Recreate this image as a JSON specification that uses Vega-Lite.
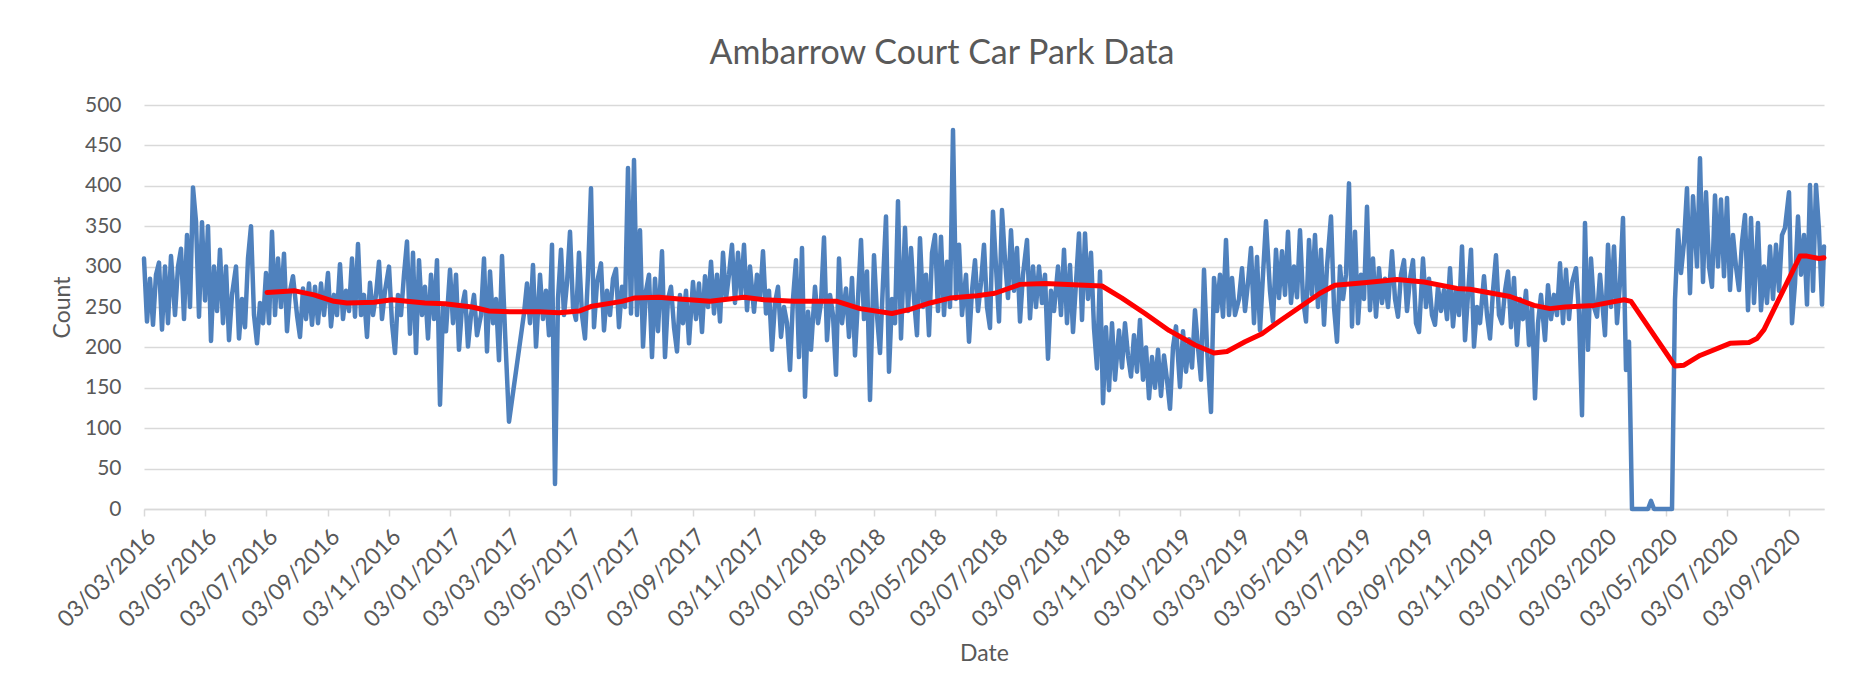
{
"$schema": "https://vega.github.io/schema/vega-lite/v6.json",
"width": 1680, "height": 404,
"autosize": {"type": "none"},
"padding": {"left": 144, "top": 105, "right": 46, "bottom": 188},
"background": "white",
"title": {"text": "Ambarrow Court Car Park Data", "font": "Lato", "fontSize": 34, "fontWeight": "normal", "color": "#595959", "anchor": "middle", "frame": "group", "dx": -42, "offset": 23},
"config": {"view": {"stroke": null}},
"layer": [
{"data": {"values": [
{"d":"2016-03-03","c":310},{"d":"2016-03-06","c":232},{"d":"2016-03-09","c":285},{"d":"2016-03-12","c":228},{"d":"2016-03-15","c":290},{"d":"2016-03-18","c":305},{"d":"2016-03-21","c":222},{"d":"2016-03-24","c":300},{"d":"2016-03-27","c":230},{"d":"2016-03-30","c":313},
{"d":"2016-04-03","c":240},{"d":"2016-04-06","c":300},{"d":"2016-04-09","c":322},{"d":"2016-04-12","c":235},{"d":"2016-04-15","c":339},{"d":"2016-04-18","c":250},{"d":"2016-04-21","c":398},{"d":"2016-04-24","c":356},{"d":"2016-04-27","c":238},{"d":"2016-04-30","c":355},
{"d":"2016-05-03","c":258},{"d":"2016-05-06","c":350},{"d":"2016-05-09","c":208},{"d":"2016-05-12","c":300},{"d":"2016-05-15","c":245},{"d":"2016-05-18","c":321},{"d":"2016-05-21","c":230},{"d":"2016-05-24","c":300},{"d":"2016-05-27","c":209},{"d":"2016-05-30","c":265},
{"d":"2016-06-03","c":300},{"d":"2016-06-06","c":211},{"d":"2016-06-09","c":260},{"d":"2016-06-12","c":225},{"d":"2016-06-15","c":310},{"d":"2016-06-18","c":350},{"d":"2016-06-21","c":240},{"d":"2016-06-24","c":205},{"d":"2016-06-27","c":255},{"d":"2016-06-30","c":230},
{"d":"2016-07-03","c":292},{"d":"2016-07-06","c":230},{"d":"2016-07-09","c":343},{"d":"2016-07-12","c":240},{"d":"2016-07-15","c":310},{"d":"2016-07-18","c":250},{"d":"2016-07-21","c":316},{"d":"2016-07-24","c":220},{"d":"2016-07-27","c":270},{"d":"2016-07-30","c":288},
{"d":"2016-08-03","c":240},{"d":"2016-08-06","c":213},{"d":"2016-08-09","c":273},{"d":"2016-08-12","c":235},{"d":"2016-08-15","c":279},{"d":"2016-08-18","c":228},{"d":"2016-08-21","c":275},{"d":"2016-08-24","c":230},{"d":"2016-08-27","c":279},{"d":"2016-08-30","c":240},
{"d":"2016-09-03","c":292},{"d":"2016-09-06","c":226},{"d":"2016-09-09","c":265},{"d":"2016-09-12","c":240},{"d":"2016-09-15","c":303},{"d":"2016-09-18","c":235},{"d":"2016-09-21","c":270},{"d":"2016-09-24","c":245},{"d":"2016-09-27","c":310},{"d":"2016-09-30","c":238},
{"d":"2016-10-03","c":328},{"d":"2016-10-06","c":240},{"d":"2016-10-09","c":265},{"d":"2016-10-12","c":213},{"d":"2016-10-15","c":280},{"d":"2016-10-18","c":240},{"d":"2016-10-21","c":265},{"d":"2016-10-24","c":306},{"d":"2016-10-27","c":235},{"d":"2016-10-30","c":270},
{"d":"2016-11-03","c":300},{"d":"2016-11-06","c":230},{"d":"2016-11-09","c":193},{"d":"2016-11-12","c":265},{"d":"2016-11-15","c":240},{"d":"2016-11-18","c":290},{"d":"2016-11-21","c":331},{"d":"2016-11-24","c":217},{"d":"2016-11-27","c":317},{"d":"2016-11-30","c":193},
{"d":"2016-12-03","c":308},{"d":"2016-12-06","c":240},{"d":"2016-12-09","c":275},{"d":"2016-12-12","c":211},{"d":"2016-12-15","c":290},{"d":"2016-12-18","c":235},{"d":"2016-12-21","c":308},{"d":"2016-12-24","c":129},{"d":"2016-12-27","c":250},{"d":"2016-12-30","c":220},
{"d":"2017-01-03","c":296},{"d":"2017-01-06","c":230},{"d":"2017-01-09","c":290},{"d":"2017-01-12","c":197},{"d":"2017-01-15","c":250},{"d":"2017-01-18","c":269},{"d":"2017-01-21","c":201},{"d":"2017-01-24","c":240},{"d":"2017-01-27","c":265},{"d":"2017-01-30","c":215},
{"d":"2017-02-03","c":240},{"d":"2017-02-06","c":310},{"d":"2017-02-09","c":195},{"d":"2017-02-12","c":294},{"d":"2017-02-15","c":230},{"d":"2017-02-18","c":260},{"d":"2017-02-21","c":184},{"d":"2017-02-24","c":313},{"d":"2017-02-27","c":220},
{"d":"2017-03-03","c":108},{"d":"2017-03-18","c":242},{"d":"2017-03-21","c":279},{"d":"2017-03-24","c":230},{"d":"2017-03-27","c":302},{"d":"2017-03-30","c":201},
{"d":"2017-04-03","c":290},{"d":"2017-04-06","c":235},{"d":"2017-04-09","c":270},{"d":"2017-04-12","c":215},{"d":"2017-04-15","c":327},{"d":"2017-04-18","c":31},{"d":"2017-04-21","c":260},{"d":"2017-04-24","c":321},{"d":"2017-04-27","c":240},{"d":"2017-04-30","c":280},
{"d":"2017-05-03","c":343},{"d":"2017-05-06","c":250},{"d":"2017-05-09","c":234},{"d":"2017-05-12","c":317},{"d":"2017-05-15","c":240},{"d":"2017-05-18","c":211},{"d":"2017-05-21","c":290},{"d":"2017-05-24","c":397},{"d":"2017-05-27","c":225},{"d":"2017-05-30","c":280},
{"d":"2017-06-03","c":304},{"d":"2017-06-06","c":221},{"d":"2017-06-09","c":270},{"d":"2017-06-12","c":240},{"d":"2017-06-15","c":285},{"d":"2017-06-18","c":297},{"d":"2017-06-21","c":225},{"d":"2017-06-24","c":275},{"d":"2017-06-27","c":250},{"d":"2017-06-30","c":422},
{"d":"2017-07-03","c":242},{"d":"2017-07-06","c":432},{"d":"2017-07-09","c":240},{"d":"2017-07-12","c":345},{"d":"2017-07-15","c":201},{"d":"2017-07-18","c":270},{"d":"2017-07-21","c":290},{"d":"2017-07-24","c":188},{"d":"2017-07-27","c":285},{"d":"2017-07-30","c":220},
{"d":"2017-08-03","c":319},{"d":"2017-08-06","c":188},{"d":"2017-08-09","c":260},{"d":"2017-08-12","c":275},{"d":"2017-08-15","c":225},{"d":"2017-08-18","c":195},{"d":"2017-08-21","c":265},{"d":"2017-08-24","c":230},{"d":"2017-08-27","c":270},{"d":"2017-08-30","c":205},
{"d":"2017-09-03","c":281},{"d":"2017-09-06","c":235},{"d":"2017-09-09","c":279},{"d":"2017-09-12","c":219},{"d":"2017-09-15","c":288},{"d":"2017-09-18","c":250},{"d":"2017-09-21","c":306},{"d":"2017-09-24","c":242},{"d":"2017-09-27","c":290},{"d":"2017-09-30","c":232},
{"d":"2017-10-03","c":317},{"d":"2017-10-06","c":260},{"d":"2017-10-09","c":290},{"d":"2017-10-12","c":327},{"d":"2017-10-15","c":255},{"d":"2017-10-18","c":317},{"d":"2017-10-21","c":265},{"d":"2017-10-24","c":327},{"d":"2017-10-27","c":246},{"d":"2017-10-30","c":300},
{"d":"2017-11-03","c":244},{"d":"2017-11-06","c":290},{"d":"2017-11-09","c":260},{"d":"2017-11-12","c":319},{"d":"2017-11-15","c":242},{"d":"2017-11-18","c":270},{"d":"2017-11-21","c":197},{"d":"2017-11-24","c":255},{"d":"2017-11-27","c":275},{"d":"2017-11-30","c":213},
{"d":"2017-12-03","c":250},{"d":"2017-12-06","c":230},{"d":"2017-12-09","c":172},{"d":"2017-12-12","c":260},{"d":"2017-12-15","c":308},{"d":"2017-12-18","c":188},{"d":"2017-12-21","c":323},{"d":"2017-12-24","c":139},{"d":"2017-12-27","c":244},{"d":"2017-12-30","c":197},
{"d":"2018-01-03","c":275},{"d":"2018-01-06","c":230},{"d":"2018-01-09","c":255},{"d":"2018-01-12","c":336},{"d":"2018-01-15","c":209},{"d":"2018-01-18","c":265},{"d":"2018-01-21","c":240},{"d":"2018-01-24","c":166},{"d":"2018-01-27","c":310},{"d":"2018-01-30","c":230},
{"d":"2018-02-03","c":273},{"d":"2018-02-06","c":213},{"d":"2018-02-09","c":286},{"d":"2018-02-12","c":190},{"d":"2018-02-15","c":260},{"d":"2018-02-18","c":333},{"d":"2018-02-21","c":235},{"d":"2018-02-24","c":294},{"d":"2018-02-27","c":135},
{"d":"2018-03-03","c":314},{"d":"2018-03-06","c":240},{"d":"2018-03-09","c":193},{"d":"2018-03-12","c":280},{"d":"2018-03-15","c":362},{"d":"2018-03-18","c":170},{"d":"2018-03-21","c":260},{"d":"2018-03-24","c":230},{"d":"2018-03-27","c":381},{"d":"2018-03-30","c":211},
{"d":"2018-04-03","c":348},{"d":"2018-04-06","c":245},{"d":"2018-04-09","c":323},{"d":"2018-04-12","c":260},{"d":"2018-04-15","c":215},{"d":"2018-04-18","c":335},{"d":"2018-04-21","c":250},{"d":"2018-04-24","c":290},{"d":"2018-04-27","c":215},{"d":"2018-04-30","c":317},
{"d":"2018-05-03","c":339},{"d":"2018-05-06","c":245},{"d":"2018-05-09","c":337},{"d":"2018-05-12","c":240},{"d":"2018-05-15","c":306},{"d":"2018-05-18","c":250},{"d":"2018-05-21","c":469},{"d":"2018-05-24","c":260},{"d":"2018-05-27","c":327},{"d":"2018-05-30","c":240},
{"d":"2018-06-03","c":290},{"d":"2018-06-06","c":207},{"d":"2018-06-09","c":270},{"d":"2018-06-12","c":308},{"d":"2018-06-15","c":245},{"d":"2018-06-18","c":280},{"d":"2018-06-21","c":327},{"d":"2018-06-24","c":250},{"d":"2018-06-27","c":224},{"d":"2018-06-30","c":368},
{"d":"2018-07-03","c":300},{"d":"2018-07-06","c":232},{"d":"2018-07-09","c":370},{"d":"2018-07-12","c":308},{"d":"2018-07-15","c":261},{"d":"2018-07-18","c":345},{"d":"2018-07-21","c":270},{"d":"2018-07-24","c":323},{"d":"2018-07-27","c":232},{"d":"2018-07-30","c":290},
{"d":"2018-08-03","c":333},{"d":"2018-08-06","c":236},{"d":"2018-08-09","c":300},{"d":"2018-08-12","c":250},{"d":"2018-08-15","c":300},{"d":"2018-08-18","c":255},{"d":"2018-08-21","c":290},{"d":"2018-08-24","c":186},{"d":"2018-08-27","c":270},{"d":"2018-08-30","c":245},
{"d":"2018-09-03","c":300},{"d":"2018-09-06","c":240},{"d":"2018-09-09","c":321},{"d":"2018-09-12","c":230},{"d":"2018-09-15","c":302},{"d":"2018-09-18","c":219},{"d":"2018-09-21","c":280},{"d":"2018-09-24","c":341},{"d":"2018-09-27","c":234},{"d":"2018-09-30","c":341},
{"d":"2018-10-03","c":260},{"d":"2018-10-06","c":317},{"d":"2018-10-09","c":224},{"d":"2018-10-12","c":174},{"d":"2018-10-15","c":294},{"d":"2018-10-18","c":131},{"d":"2018-10-21","c":225},{"d":"2018-10-24","c":147},{"d":"2018-10-27","c":230},{"d":"2018-10-30","c":160},
{"d":"2018-11-03","c":221},{"d":"2018-11-06","c":175},{"d":"2018-11-09","c":230},{"d":"2018-11-12","c":190},{"d":"2018-11-15","c":164},{"d":"2018-11-18","c":215},{"d":"2018-11-21","c":170},{"d":"2018-11-24","c":234},{"d":"2018-11-27","c":160},{"d":"2018-11-30","c":200},
{"d":"2018-12-03","c":137},{"d":"2018-12-06","c":188},{"d":"2018-12-09","c":150},{"d":"2018-12-12","c":197},{"d":"2018-12-15","c":140},{"d":"2018-12-18","c":190},{"d":"2018-12-21","c":160},{"d":"2018-12-24","c":124},{"d":"2018-12-27","c":200},{"d":"2018-12-30","c":226},
{"d":"2019-01-03","c":151},{"d":"2019-01-06","c":220},{"d":"2019-01-09","c":170},{"d":"2019-01-12","c":210},{"d":"2019-01-15","c":175},{"d":"2019-01-18","c":246},{"d":"2019-01-21","c":200},{"d":"2019-01-24","c":160},{"d":"2019-01-27","c":296},{"d":"2019-01-30","c":200},
{"d":"2019-02-03","c":120},{"d":"2019-02-06","c":286},{"d":"2019-02-09","c":245},{"d":"2019-02-12","c":290},{"d":"2019-02-15","c":238},{"d":"2019-02-18","c":333},{"d":"2019-02-21","c":240},{"d":"2019-02-24","c":286},{"d":"2019-02-27","c":240},
{"d":"2019-03-03","c":260},{"d":"2019-03-06","c":298},{"d":"2019-03-09","c":245},{"d":"2019-03-12","c":280},{"d":"2019-03-15","c":323},{"d":"2019-03-18","c":230},{"d":"2019-03-21","c":312},{"d":"2019-03-24","c":221},{"d":"2019-03-27","c":290},{"d":"2019-03-30","c":356},
{"d":"2019-04-03","c":270},{"d":"2019-04-06","c":232},{"d":"2019-04-09","c":321},{"d":"2019-04-12","c":261},{"d":"2019-04-15","c":319},{"d":"2019-04-18","c":265},{"d":"2019-04-21","c":343},{"d":"2019-04-24","c":255},{"d":"2019-04-27","c":300},{"d":"2019-04-30","c":262},
{"d":"2019-05-03","c":345},{"d":"2019-05-06","c":260},{"d":"2019-05-09","c":232},{"d":"2019-05-12","c":333},{"d":"2019-05-15","c":265},{"d":"2019-05-18","c":339},{"d":"2019-05-21","c":250},{"d":"2019-05-24","c":321},{"d":"2019-05-27","c":228},{"d":"2019-05-30","c":300},
{"d":"2019-06-03","c":362},{"d":"2019-06-06","c":250},{"d":"2019-06-09","c":207},{"d":"2019-06-12","c":300},{"d":"2019-06-15","c":260},{"d":"2019-06-18","c":290},{"d":"2019-06-21","c":403},{"d":"2019-06-24","c":226},{"d":"2019-06-27","c":343},{"d":"2019-06-30","c":230},
{"d":"2019-07-03","c":290},{"d":"2019-07-06","c":260},{"d":"2019-07-09","c":374},{"d":"2019-07-12","c":246},{"d":"2019-07-15","c":310},{"d":"2019-07-18","c":238},{"d":"2019-07-21","c":298},{"d":"2019-07-24","c":255},{"d":"2019-07-27","c":285},{"d":"2019-07-30","c":250},
{"d":"2019-08-03","c":319},{"d":"2019-08-06","c":260},{"d":"2019-08-09","c":238},{"d":"2019-08-12","c":290},{"d":"2019-08-15","c":308},{"d":"2019-08-18","c":245},{"d":"2019-08-21","c":285},{"d":"2019-08-24","c":308},{"d":"2019-08-27","c":230},{"d":"2019-08-30","c":219},
{"d":"2019-09-03","c":310},{"d":"2019-09-06","c":250},{"d":"2019-09-09","c":285},{"d":"2019-09-12","c":240},{"d":"2019-09-15","c":228},{"d":"2019-09-18","c":275},{"d":"2019-09-21","c":245},{"d":"2019-09-24","c":271},{"d":"2019-09-27","c":235},{"d":"2019-09-30","c":298},
{"d":"2019-10-03","c":226},{"d":"2019-10-06","c":270},{"d":"2019-10-09","c":240},{"d":"2019-10-12","c":325},{"d":"2019-10-15","c":209},{"d":"2019-10-18","c":265},{"d":"2019-10-21","c":321},{"d":"2019-10-24","c":201},{"d":"2019-10-27","c":250},{"d":"2019-10-30","c":230},
{"d":"2019-11-03","c":288},{"d":"2019-11-06","c":240},{"d":"2019-11-09","c":211},{"d":"2019-11-12","c":270},{"d":"2019-11-15","c":314},{"d":"2019-11-18","c":240},{"d":"2019-11-21","c":230},{"d":"2019-11-24","c":270},{"d":"2019-11-27","c":294},{"d":"2019-11-30","c":225},
{"d":"2019-12-03","c":286},{"d":"2019-12-06","c":203},{"d":"2019-12-09","c":260},{"d":"2019-12-12","c":235},{"d":"2019-12-15","c":270},{"d":"2019-12-18","c":203},{"d":"2019-12-21","c":250},{"d":"2019-12-24","c":137},{"d":"2019-12-27","c":230},{"d":"2019-12-30","c":265},
{"d":"2020-01-03","c":209},{"d":"2020-01-06","c":277},{"d":"2020-01-09","c":235},{"d":"2020-01-12","c":265},{"d":"2020-01-15","c":240},{"d":"2020-01-18","c":304},{"d":"2020-01-21","c":230},{"d":"2020-01-24","c":296},{"d":"2020-01-27","c":235},{"d":"2020-01-30","c":280},
{"d":"2020-02-03","c":298},{"d":"2020-02-06","c":242},{"d":"2020-02-09","c":116},{"d":"2020-02-12","c":354},{"d":"2020-02-15","c":197},{"d":"2020-02-18","c":310},{"d":"2020-02-21","c":250},{"d":"2020-02-24","c":238},{"d":"2020-02-27","c":290},
{"d":"2020-03-03","c":215},{"d":"2020-03-06","c":327},{"d":"2020-03-09","c":250},{"d":"2020-03-12","c":325},{"d":"2020-03-15","c":230},{"d":"2020-03-18","c":280},{"d":"2020-03-21","c":360},{"d":"2020-03-24","c":172},{"d":"2020-03-27","c":207},{"d":"2020-03-30","c":0},
{"d":"2020-04-03","c":0},{"d":"2020-04-06","c":0},{"d":"2020-04-09","c":0},{"d":"2020-04-12","c":0},{"d":"2020-04-15","c":0},{"d":"2020-04-18","c":10},{"d":"2020-04-21","c":0},{"d":"2020-04-24","c":0},{"d":"2020-04-27","c":0},{"d":"2020-04-30","c":0},
{"d":"2020-05-03","c":0},{"d":"2020-05-06","c":0},{"d":"2020-05-09","c":0},{"d":"2020-05-12","c":259},{"d":"2020-05-15","c":345},{"d":"2020-05-18","c":292},{"d":"2020-05-21","c":330},{"d":"2020-05-24","c":397},{"d":"2020-05-27","c":267},{"d":"2020-05-30","c":387},
{"d":"2020-06-03","c":300},{"d":"2020-06-06","c":434},{"d":"2020-06-09","c":281},{"d":"2020-06-12","c":392},{"d":"2020-06-15","c":300},{"d":"2020-06-18","c":275},{"d":"2020-06-21","c":388},{"d":"2020-06-24","c":300},{"d":"2020-06-27","c":383},{"d":"2020-06-30","c":288},
{"d":"2020-07-03","c":385},{"d":"2020-07-06","c":271},{"d":"2020-07-09","c":339},{"d":"2020-07-12","c":300},{"d":"2020-07-15","c":271},{"d":"2020-07-18","c":330},{"d":"2020-07-21","c":364},{"d":"2020-07-24","c":246},{"d":"2020-07-27","c":360},{"d":"2020-07-30","c":255},
{"d":"2020-08-03","c":354},{"d":"2020-08-06","c":246},{"d":"2020-08-09","c":300},{"d":"2020-08-12","c":255},{"d":"2020-08-15","c":325},{"d":"2020-08-18","c":260},{"d":"2020-08-21","c":327},{"d":"2020-08-24","c":270},{"d":"2020-08-27","c":339},{"d":"2020-08-30","c":348},
{"d":"2020-09-03","c":392},{"d":"2020-09-06","c":230},{"d":"2020-09-09","c":279},{"d":"2020-09-12","c":362},{"d":"2020-09-15","c":290},{"d":"2020-09-18","c":339},{"d":"2020-09-21","c":253},{"d":"2020-09-24","c":401},{"d":"2020-09-27","c":270},{"d":"2020-09-30","c":401},
{"d":"2020-10-03","c":345},{"d":"2020-10-06","c":253},{"d":"2020-10-08","c":325}
]},
"mark": {"type": "line", "color": "#4F81BD", "strokeWidth": 4.5, "strokeJoin": "round", "strokeCap": "round"},
"encoding": {
"x": {"field": "d", "type": "temporal", "title": "Date",
"scale": {"type": "utc", "domain": [{"year": 2016, "month": 3, "date": 3, "utc": true}, {"year": 2020, "month": 10, "date": 8, "utc": true}]},
"axis": {"values": [
{"year":2016,"month":3,"date":3,"utc":true},{"year":2016,"month":5,"date":3,"utc":true},{"year":2016,"month":7,"date":3,"utc":true},{"year":2016,"month":9,"date":3,"utc":true},{"year":2016,"month":11,"date":3,"utc":true},
{"year":2017,"month":1,"date":3,"utc":true},{"year":2017,"month":3,"date":3,"utc":true},{"year":2017,"month":5,"date":3,"utc":true},{"year":2017,"month":7,"date":3,"utc":true},{"year":2017,"month":9,"date":3,"utc":true},{"year":2017,"month":11,"date":3,"utc":true},
{"year":2018,"month":1,"date":3,"utc":true},{"year":2018,"month":3,"date":3,"utc":true},{"year":2018,"month":5,"date":3,"utc":true},{"year":2018,"month":7,"date":3,"utc":true},{"year":2018,"month":9,"date":3,"utc":true},{"year":2018,"month":11,"date":3,"utc":true},
{"year":2019,"month":1,"date":3,"utc":true},{"year":2019,"month":3,"date":3,"utc":true},{"year":2019,"month":5,"date":3,"utc":true},{"year":2019,"month":7,"date":3,"utc":true},{"year":2019,"month":9,"date":3,"utc":true},{"year":2019,"month":11,"date":3,"utc":true},
{"year":2020,"month":1,"date":3,"utc":true},{"year":2020,"month":3,"date":3,"utc":true},{"year":2020,"month":5,"date":3,"utc":true},{"year":2020,"month":7,"date":3,"utc":true},{"year":2020,"month":9,"date":3,"utc":true}],
"format": "%d/%m/%Y", "labelAngle": -45, "labelOverlap": false, "labelFlush": false, "labelBaseline": "top",
"labelFont": "Lato", "labelFontSize": 23, "labelColor": "#595959", "labelPadding": 9,
"domainColor": "#d9d9d9", "domainWidth": 1.5, "tickColor": "#d9d9d9", "tickWidth": 1.5, "tickSize": 7, "grid": false,
"titleFont": "Lato", "titleFontSize": 23, "titleColor": "#595959", "titleFontWeight": "normal", "titlePadding": 11}},
"y": {"field": "c", "type": "quantitative", "title": "Count",
"scale": {"domain": [0, 500]},
"axis": {"values": [0,50,100,150,200,250,300,350,400,450,500], "grid": true, "gridColor": "#d9d9d9", "gridWidth": 1.5, "domain": false, "ticks": false,
"labelFont": "Lato", "labelFontSize": 21, "labelColor": "#595959", "labelPadding": 23,
"titleFont": "Lato", "titleFontSize": 23, "titleColor": "#595959", "titleFontWeight": "normal", "titlePadding": 10}}
}},
{"data": {"values": [
{"d":"2016-07-04","c":268},{"d":"2016-08-01","c":270},{"d":"2016-08-20","c":265},{"d":"2016-09-09","c":257},{"d":"2016-09-22","c":255},{"d":"2016-10-19","c":256},{"d":"2016-11-06","c":259},{"d":"2016-11-21","c":257},{"d":"2016-12-09","c":255},{"d":"2016-12-29","c":254},
{"d":"2017-01-25","c":250},{"d":"2017-02-11","c":245},{"d":"2017-03-06","c":244},{"d":"2017-04-02","c":244},{"d":"2017-04-22","c":243},{"d":"2017-05-12","c":245},{"d":"2017-05-25","c":251},{"d":"2017-06-24","c":257},{"d":"2017-07-06","c":261},{"d":"2017-07-31","c":262},
{"d":"2017-08-20","c":260},{"d":"2017-09-20","c":257},{"d":"2017-10-24","c":262},{"d":"2017-11-13","c":259},{"d":"2017-12-13","c":257},{"d":"2018-01-25","c":257},{"d":"2018-02-17","c":248},{"d":"2018-03-21","c":242},{"d":"2018-04-08","c":247},{"d":"2018-04-28","c":255},
{"d":"2018-05-18","c":261},{"d":"2018-06-14","c":264},{"d":"2018-07-02","c":267},{"d":"2018-07-27","c":278},{"d":"2018-08-21","c":279},{"d":"2018-10-17","c":276},{"d":"2018-11-06","c":261},{"d":"2018-11-29","c":242},{"d":"2018-12-23","c":221},{"d":"2019-01-18","c":203},
{"d":"2019-02-06","c":193},{"d":"2019-02-19","c":195},{"d":"2019-03-09","c":207},{"d":"2019-03-26","c":217},{"d":"2019-04-13","c":233},{"d":"2019-05-03","c":250},{"d":"2019-05-23","c":267},{"d":"2019-06-07","c":277},{"d":"2019-07-06","c":280},{"d":"2019-08-08","c":284},
{"d":"2019-09-04","c":281},{"d":"2019-10-07","c":273},{"d":"2019-10-20","c":272},{"d":"2019-11-29","c":263},{"d":"2019-12-23","c":252},{"d":"2020-01-08","c":248},{"d":"2020-01-23","c":250},{"d":"2020-02-21","c":252},{"d":"2020-03-22","c":259},{"d":"2020-03-29","c":257},
{"d":"2020-05-12","c":177},{"d":"2020-05-21","c":178},{"d":"2020-06-06","c":190},{"d":"2020-07-06","c":205},{"d":"2020-07-25","c":206},{"d":"2020-08-02","c":211},{"d":"2020-08-09","c":222},{"d":"2020-09-14","c":313},{"d":"2020-09-21","c":313},{"d":"2020-10-03","c":310},{"d":"2020-10-08","c":311}
]},
"mark": {"type": "line", "color": "#FF0000", "strokeWidth": 5, "strokeJoin": "round", "strokeCap": "round"},
"encoding": {
"x": {"field": "d", "type": "temporal"},
"y": {"field": "c", "type": "quantitative"}
}}
]
}
